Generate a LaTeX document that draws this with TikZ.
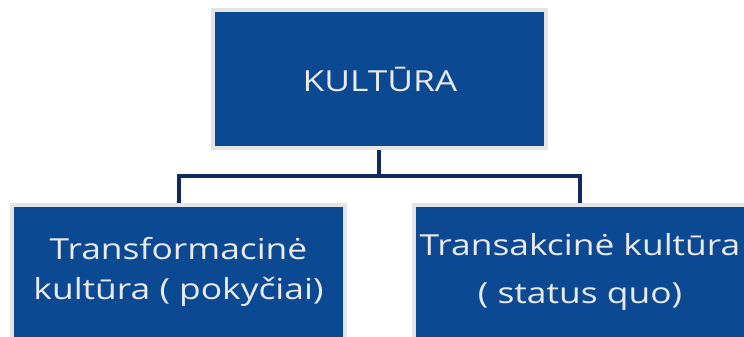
\documentclass[tikz,border=0pt]{standalone}
\usepackage{fontspec}
\setmainfont[FakeStretch=1.22]{Open Sans}
\usetikzlibrary{backgrounds}
\definecolor{boxblue}{HTML}{0B4A93}
\definecolor{boxrim}{HTML}{E4E4E4}
\definecolor{linknavy}{HTML}{0E2A5F}
\definecolor{labelgrey}{HTML}{EAEAEA}
\tikzset{
  x=1pt, y=1pt,
  box/.style={draw=boxrim, line width=4pt, fill=boxblue, rectangle, inner sep=0pt},
  label/.style={text=labelgrey, align=center, font=\fontsize{29}{40}\selectfont, inner sep=0pt},
  link/.style={draw=linknavy, line width=4pt}
}
\begin{document}
\begin{tikzpicture}
  \useasboundingbox (0,0) rectangle (744,-337);
  \clip (0,0) rectangle (744,-337);
  % boxes
  \node[box, minimum width=333pt, minimum height=137pt] (top) at (379,-79) {};
  \node[box, minimum width=333pt, minimum height=160pt] (left) at (178.5,-285) {};
  \node[box, minimum width=333pt, minimum height=160pt] (right) at (580,-285) {};
  % labels
  \node[label] (topText) at (380,-79) {KULTŪRA};
  \node[label] (leftText) at (178.5,-272) {Transformacinė\\kultūra ( pokyčiai)};
  \node[label, font=\fontsize{29}{48}\selectfont] (rightText) at (580,-272) {Transakcinė kultūra\\( status quo)};
  % tree connectors
  \coordinate (bus) at (379,-176);
  \begin{scope}[on background layer]
    \draw[link] (top.south) -- (bus) -| (left.north);
    \draw[link] (bus) -| (right.north);
  \end{scope}
\end{tikzpicture}
\end{document}
